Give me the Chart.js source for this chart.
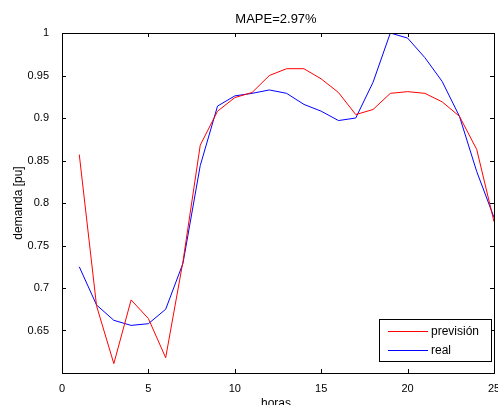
<!DOCTYPE html>
<html>
<head>
<meta charset="utf-8">
<script src="https://cdn.jsdelivr.net/npm/chart.js@4/dist/chart.umd.min.js"></script>
<style>
  html, body { margin: 0; padding: 0; background: #fff; }
  #wrap { width: 498px; height: 405px; position: relative; }
</style>
</head>
<body>
<div id="wrap"><canvas id="plot"></canvas></div>
<script>
// hours 1..24 plus 25
const horas = [1, 2, 3, 4, 5, 6, 7, 8, 9, 10, 11, 12, 13, 14, 15, 16, 17, 18, 19, 20, 21, 22, 23, 24, 25];
const prevision = [0.857, 0.679, 0.611, 0.686, 0.664, 0.618, 0.731, 0.868, 0.908, 0.924, 0.930, 0.950, 0.958,
                   0.958, 0.946, 0.930, 0.904, 0.910, 0.929, 0.931, 0.929, 0.919, 0.902, 0.863, 0.778];
const real = [0.725, 0.680, 0.662, 0.656, 0.658, 0.675, 0.729, 0.844, 0.914, 0.926, 0.929, 0.933, 0.929,
              0.916, 0.908, 0.897, 0.900, 0.942, 1.000, 0.994, 0.971, 0.943, 0.902, 0.837, 0.783];
const titulo = 'MAPE=2.97%';
const xLabel = 'horas';
const yLabel = 'demanda [pu]';

const FONT = 'Arial, "Liberation Sans", sans-serif';

// matlab-ish box, inward ticks, title, xlabel and legend
const matlabAxes = {
    id: 'matlabAxes',
    afterDatasetsDraw(chart) {
        const { ctx, chartArea: a, scales } = chart;
        const tl = 4;
        ctx.save();
        ctx.strokeStyle = '#000';
        ctx.lineWidth = 1;
        ctx.beginPath();
        scales.x.ticks.forEach(t => {
            const px = Math.round(scales.x.getPixelForValue(t.value)) + 0.5;
            ctx.moveTo(px, a.bottom); ctx.lineTo(px, a.bottom - tl);
            ctx.moveTo(px, a.top); ctx.lineTo(px, a.top + tl);
        });
        scales.y.ticks.forEach(t => {
            const py = Math.round(scales.y.getPixelForValue(t.value)) + 0.5;
            ctx.moveTo(a.left, py); ctx.lineTo(a.left + tl, py);
            ctx.moveTo(a.right, py); ctx.lineTo(a.right - tl, py);
        });
        ctx.stroke();
        ctx.strokeRect(Math.round(a.left) + 0.5, Math.round(a.top) + 0.5,
                       Math.round(a.right - a.left), Math.round(a.bottom - a.top));

        // title and x label
        const cx = (a.left + a.right) / 2;
        ctx.fillStyle = '#000';
        ctx.textAlign = 'center';
        ctx.textBaseline = 'middle';
        ctx.font = '13px ' + FONT;
        ctx.fillText(titulo, cx - 2, 19);
        ctx.font = '12px ' + FONT;
        ctx.fillText(xLabel, cx - 2, 404);

        // legend box, lower right
        const bx = a.right - 115, by = a.bottom - 54, bw = 112, bh = 42;
        ctx.fillStyle = '#fff';
        ctx.fillRect(bx, by, bw, bh);
        ctx.strokeRect(bx + 0.5, by + 0.5, bw, bh);
        ctx.textAlign = 'left';
        chart.data.datasets.forEach((ds, i) => {
            const ly = by + 12 + i * 19 + 0.5;
            ctx.strokeStyle = ds.borderColor;
            ctx.beginPath();
            ctx.moveTo(bx + 9, ly); ctx.lineTo(bx + 49, ly);
            ctx.stroke();
            ctx.fillStyle = '#000';
            ctx.fillText(ds.label, bx + 52, ly);
        });
        ctx.restore();
    }
};

new Chart(document.getElementById('plot'), {
    type: 'line',
    data: {
        labels: horas,
        datasets: [
            { label: 'previsión', data: prevision, borderColor: '#ff0000', borderWidth: 1, pointRadius: 0, tension: 0 },
            { label: 'real', data: real, borderColor: '#0000ff', borderWidth: 1, pointRadius: 0, tension: 0 }
        ]
    },
    options: {
        responsive: true,
        maintainAspectRatio: false,
        animation: false,
        layout: { padding: { top: 33, right: 4, left: 0, bottom: 0 } },
        plugins: { legend: { display: false }, tooltip: { enabled: false }, title: { display: false } },
        scales: {
            x: {
                type: 'linear',
                min: 0, max: 25,
                grid: { display: false },
                border: { display: false },
                ticks: { stepSize: 5, color: '#000', font: { size: 11, family: FONT }, padding: 1, maxRotation: 0 },
                afterFit(s) { s.height = 32; s.paddingLeft = 0; s.paddingRight = 0; }
            },
            y: {
                min: 0.6, max: 1,
                grid: { display: false },
                border: { display: false },
                ticks: {
                    stepSize: 0.05, color: '#000', font: { size: 11, family: FONT }, padding: 5,
                    callback: v => v < 0.62 ? '' : String(+v.toFixed(2))
                },
                title: { display: true, text: yLabel, color: '#000', font: { size: 12, family: FONT }, padding: { top: 11, bottom: 0 } },
                afterFit(s) { s.width = 62; }
            }
        }
    },
    plugins: [matlabAxes]
});
</script>
</body>
</html>
